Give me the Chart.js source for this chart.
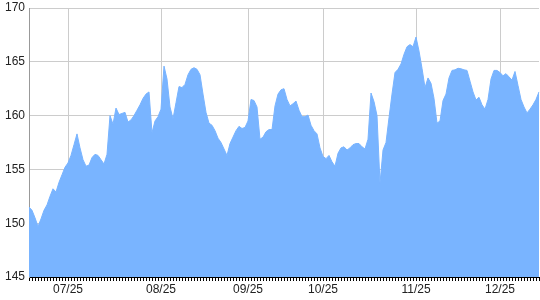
<!DOCTYPE html>
<html>
<head>
<meta charset="utf-8">
<script src="https://cdn.jsdelivr.net/npm/chart.js@4/dist/chart.umd.min.js"></script>
<style>
  html, body { margin: 0; padding: 0; background: #fff; }
  #wrap { width: 540px; height: 300px; }
</style>
</head>
<body>
<div id="wrap"><canvas id="myChart"></canvas></div>
<script>
// daily closes
const values = [
  151.5, 151.2, 150.5, 149.7, 150.4, 151.2, 151.7, 152.5, 153.2, 152.9,
  153.8, 154.5, 155.2, 155.6, 156.3, 157.3, 158.3, 157.0, 155.9, 155.3,
  155.4, 156.1, 156.4, 156.3, 155.9, 155.5, 156.4, 160.0, 159.2, 160.7,
  160.1, 160.2, 160.3, 159.4, 159.6, 160.0, 160.5, 161.0, 161.6, 162.0,
  162.2, 158.4, 159.5, 159.9, 160.6, 164.6, 163.4, 160.8, 159.7, 161.2,
  162.7, 162.6, 162.9, 163.8, 164.3, 164.45, 164.3, 163.8, 162.0, 160.3,
  159.3, 159.1, 158.6, 157.9, 157.5, 156.9, 156.3, 157.4, 158.0, 158.6,
  159.0, 158.8, 158.9, 159.5, 161.5, 161.4, 160.8, 157.8, 158.0, 158.5,
  158.7, 158.7, 160.9, 162.0, 162.4, 162.5, 161.5, 160.9, 161.1, 161.35,
  160.5, 159.9, 159.9, 160.05, 159.1, 158.6, 158.3, 157.0, 156.2, 156.0,
  156.3, 155.7, 155.3, 156.5, 157.0, 157.1, 156.8, 157.0, 157.3, 157.4,
  157.4, 157.1, 156.9, 157.8, 162.1, 161.3, 160.0, 153.7, 156.8, 157.5,
  159.8, 162.0, 164.0, 164.3, 164.8, 165.7, 166.4, 166.6, 166.4, 167.3,
  166.0, 164.4, 162.6, 163.5, 163.0, 161.6, 159.3, 159.5, 161.4, 162.0,
  163.5, 164.2, 164.25, 164.4, 164.35, 164.25, 164.2, 163.2, 162.2, 161.45,
  161.7, 161.0, 160.6, 161.5, 163.4, 164.2, 164.2, 164.0, 163.7, 163.9,
  163.6, 163.3, 164.1, 162.8, 161.5, 160.8, 160.25, 160.6, 161.0, 161.5,
  162.2
];

// where the month labels sit
const tickLabels = ["07/25", "08/25", "09/25", "10/25", "11/25", "12/25"];
const tickIndex = [13, 44, 73, 98, 129, 157];

const yTicks = [145, 150, 155, 160, 165, 170];

const labels = values.map(() => "");
tickIndex.forEach((idx, k) => { labels[idx] = tickLabels[k]; });

Chart.defaults.font.family = "Arial, 'Liberation Sans', sans-serif";
Chart.defaults.font.size = 12;
Chart.defaults.color = "#222";

new Chart(document.getElementById("myChart").getContext("2d"), {
  type: "line",
  data: {
    labels: labels,
    datasets: [{
      data: values,
      fill: "start",
      backgroundColor: "#79b4ff",
      borderColor: "#79b4ff",
      borderWidth: 1,
      pointRadius: 0,
      tension: 0
    }]
  },
  options: {
    responsive: true,
    maintainAspectRatio: false,
    animation: false,
    layout: { padding: { top: 8, right: 1, left: 0, bottom: 0 } },
    plugins: { legend: { display: false }, tooltip: { enabled: false } },
    scales: {
      x: {
        offset: false,
        grid: {
          color: (ctx) => labels[ctx.index] ? "#cccccc" : "rgba(0,0,0,0)",
          tickColor: "#000",
          tickLength: 4,
          drawOnChartArea: true
        },
        border: { color: "#000" },
        ticks: {
          autoSkip: false,
          maxRotation: 0,
          padding: 1,
          callback: (v, i) => labels[i]
        },
        afterFit: (scale) => {
          scale.height = 23;
          scale.paddingLeft = 0;
          scale.paddingRight = 0;
        }
      },
      y: {
        min: yTicks[0],
        max: yTicks[yTicks.length - 1],
        afterBuildTicks: (scale) => { scale.ticks = yTicks.map(v => ({ value: v })); },
        grid: { color: "#cccccc", drawTicks: false },
        border: { color: "#999" },
        ticks: { padding: 4 },
        afterFit: (scale) => {
          scale.width = 29;
          scale.paddingTop = 0;
          scale.paddingBottom = 0;
        }
      }
    }
  }
});
</script>
</body>
</html>
